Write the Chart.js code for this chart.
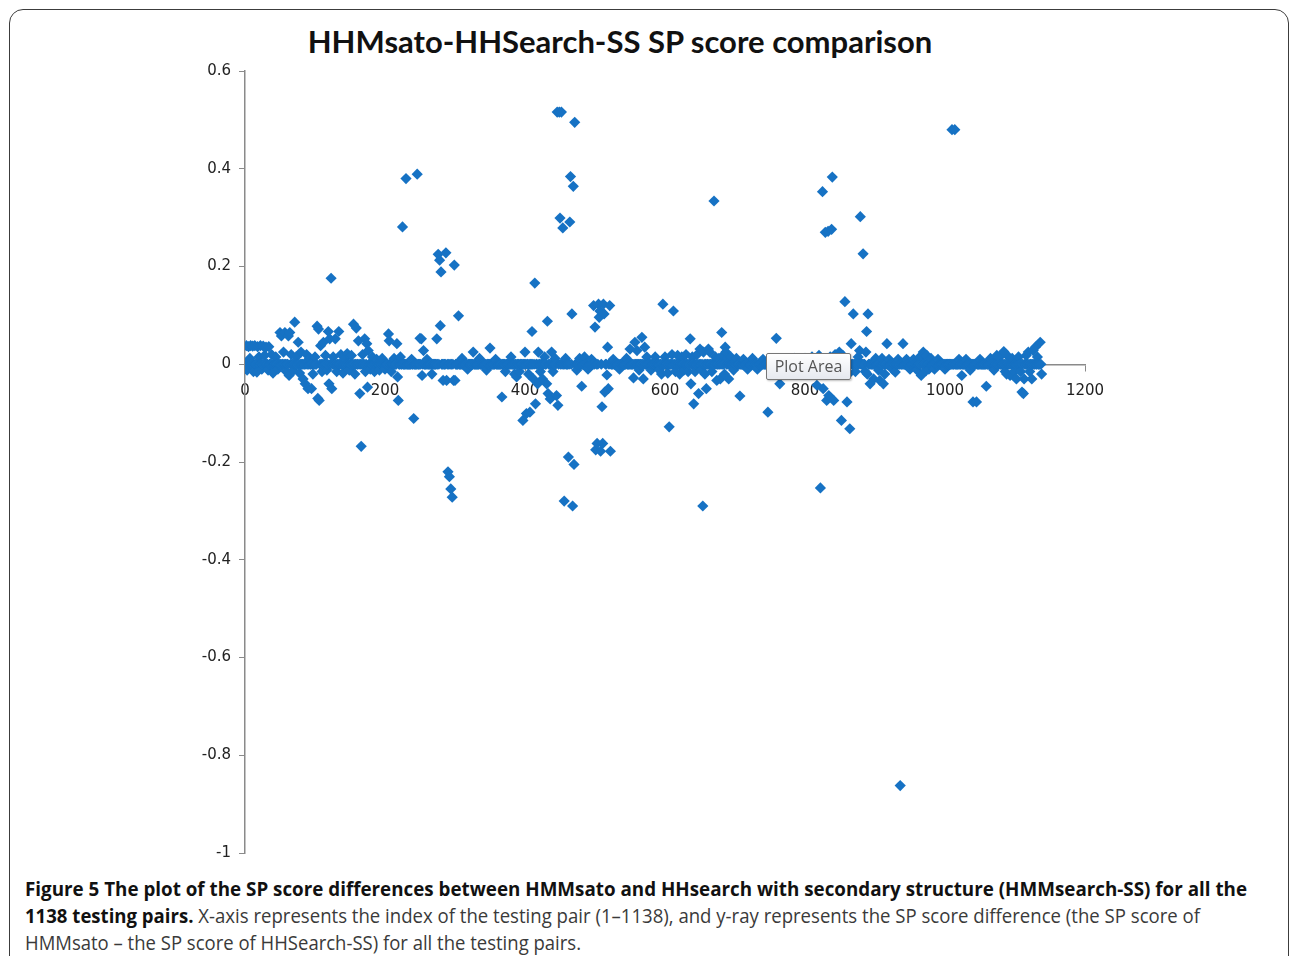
<!DOCTYPE html>
<html>
<head>
<meta charset="utf-8">
<script src="https://cdn.jsdelivr.net/npm/chart.js@4.4.1/dist/chart.umd.min.js"></script>
<style>
  html, body { margin: 0; padding: 0; background: #fff; }
  body { width: 1290px; height: 956px; position: relative; overflow: hidden; }
  #frame {
    position: absolute; left: 9px; top: 9px; width: 1280px; height: 1100px;
    box-sizing: border-box; border: 1.5px solid #3c3c3c; border-radius: 14px;
  }
  #title {
    position: absolute; left: 0; width: 1240px; top: 22px; text-align: center;
    font: bold 31px Lato, "Open Sans", sans-serif; color: #111;
  }
  #chart-wrap { position: absolute; left: 0; top: 0; }
  #tip {
    position: absolute; left: 766px; top: 353px; width: 85px; height: 27px;
    box-sizing: border-box; border: 1px solid #777; border-radius: 2px;
    background: linear-gradient(#ffffff, #e6e9ef);
    box-shadow: 1px 1px 2px rgba(0,0,0,0.25);
    font: 16px "Open Sans", "DejaVu Sans", sans-serif; color: #555;
    text-align: center; line-height: 25px;
  }
  .cap { position: absolute; left: 25px; white-space: nowrap; transform-origin: left center;
         font: 20px "Open Sans", sans-serif; color: #3a3a3a; }
  .cap b { color: #111; }
</style>
</head>
<body>
<div id="frame"></div>
<div id="title">HHMsato-HHSearch-SS SP score comparison</div>
<div id="chart-wrap"><canvas id="scatter" width="1290" height="870"></canvas></div>
<div id="tip">Plot Area</div>
<div class="cap" id="cap1" data-w="1222" style="top:875px"><b>Figure 5 The plot of the SP score differences between HMMsato and HHsearch with secondary structure (HMMsearch-SS) for all the</b></div>
<div class="cap" id="cap2" data-w="1175" style="top:902px"><b>1138 testing pairs.</b> X-axis represents the index of the testing pair (1–1138), and y-ray represents the SP score difference (the SP score of</div>
<div class="cap" id="cap3" data-w="556" style="top:929px">HMMsato – the SP score of HHSearch-SS) for all the testing pairs.</div>
<script>
const pairCount = 1138;
const xTicks = [0, 200, 400, 600, 800, 1000, 1200];
const yTicks = [0.6, 0.4, 0.2, 0, -0.2, -0.4, -0.6, -0.8, -1];

// [pair index, SP score difference] for every pair that is not on the zero line
const nonZeroPairs = [
  [2,0.038],[3,-0.012],[5,0.036],[7,0.012],[8,0.038],[11,0.037],[12,-0.015],[14,0.038],
  [17,-0.016],[18,0.036],[20,0.015],[22,0.038],[24,-0.01],[26,0.037],[28,0.018],[30,0.035],
  [33,-0.012],[34,0.036],[38,0.02],[40,-0.018],[44,0.015],[47,-0.01],[50,0.065],[52,0.058],
  [55,0.025],[57,0.065],[59,-0.015],[62,0.058],[63,-0.023],[64,0.065],[66,0.02],[69,-0.013],
  [71,0.086],[73,0.015],[76,0.045],[78,-0.018],[80,0.025],[83,-0.03],[86,-0.04],[88,0.02],
  [90,-0.05],[92,0.012],[95,-0.05],[97,-0.02],[100,0.015],[103,0.078],[104,-0.07],[105,0.072],
  [106,-0.074],[108,0.038],[110,-0.015],[112,0.045],[115,0.018],[117,-0.012],[119,0.067],
  [120,-0.04],[121,0.052],[123,0.176],[124,-0.05],[126,0.015],[129,0.052],[131,-0.015],
  [134,0.067],[137,0.02],[140,-0.018],[143,0.012],[146,0.022],[149,-0.012],[152,0.018],
  [155,0.082],[157,-0.02],[159,0.074],[162,0.048],[164,-0.06],[166,-0.168],[168,0.02],
  [171,0.052],[172,-0.015],[174,0.042],[175,-0.047],[176,0.028],[179,-0.01],[182,0.015],
  [185,-0.015],[188,0.01],[192,-0.012],[196,0.012],[200,-0.01],[205,0.062],[206,0.048],
  [209,-0.015],[213,0.012],[217,0.042],[218,-0.026],[219,-0.074],[222,0.015],[225,0.281],
  [230,0.38],[238,0.01],[241,-0.111],[246,0.389],[250,0.053],[252,0.052],[253,-0.023],
  [255,0.028],[260,0.01],[267,-0.02],[274,0.052],[276,0.225],[278,0.213],[279,0.079],
  [280,0.189],[283,-0.033],[287,0.228],[288,-0.033],[290,-0.22],[292,-0.23],[294,-0.255],
  [296,-0.272],[298,-0.033],[299,0.203],[300,-0.033],[305,0.099],[310,0.012],[318,-0.01],
  [326,0.025],[335,0.012],[345,-0.012],[350,0.033],[358,0.01],[367,-0.067],[372,-0.015],
  [380,0.015],[385,-0.02],[388,-0.026],[392,-0.015],[397,-0.115],[400,0.025],[402,-0.101],
  [405,-0.02],[407,-0.098],[410,0.067],[412,-0.03],[414,0.166],[415,-0.081],[418,-0.04],
  [419,0.025],[422,-0.015],[425,-0.03],[428,0.015],[431,-0.04],[432,0.088],[433,-0.06],
  [436,-0.071],[438,0.025],[440,-0.015],[443,0.012],[445,-0.064],[446,0.516],[447,-0.084],
  [449,0.516],[450,0.299],[452,0.516],[454,0.279],[456,-0.28],[458,0.012],[462,-0.19],
  [464,0.291],[465,0.384],[467,0.103],[468,-0.29],[469,0.364],[470,-0.205],[471,0.495],
  [474,-0.012],[478,0.012],[481,-0.045],[485,0.015],[490,-0.01],[495,0.01],[498,0.12],
  [500,0.076],[501,-0.175],[503,-0.162],[505,0.123],[506,0.096],[507,0.109],[508,-0.178],
  [510,-0.087],[511,-0.162],[512,0.123],[513,0.103],[514,-0.057],[517,-0.022],[518,0.035],
  [519,-0.05],[521,0.12],[522,-0.178],[526,0.01],[535,-0.01],[545,0.012],[550,0.031],
  [555,-0.028],[557,0.045],[560,0.028],[563,-0.012],[567,0.055],[569,-0.03],[571,0.035],
  [574,0.015],[580,-0.012],[586,0.015],[592,-0.012],[595,-0.02],[597,0.123],[600,0.015],
  [604,-0.018],[606,-0.128],[610,0.02],[612,0.109],[615,-0.015],[618,0.018],[621,-0.02],
  [624,0.015],[627,-0.012],[630,0.02],[633,-0.015],[636,0.052],[637,-0.04],[639,0.015],
  [641,-0.081],[643,-0.015],[646,0.02],[648,-0.06],[650,0.031],[652,-0.012],[654,-0.29],
  [655,0.025],[657,-0.02],[659,-0.05],[662,0.031],[664,0.025],[667,-0.015],[670,0.334],
  [672,0.015],[674,-0.033],[677,0.012],[679,-0.03],[681,0.065],[683,0.018],[685,-0.02],
  [686,0.035],[687,0.025],[689,0.012],[691,-0.03],[694,0.015],[698,-0.012],[702,0.012],
  [707,-0.065],[712,0.01],[718,-0.01],[725,0.012],[732,-0.01],[740,0.01],[747,-0.098],
  [752,0.01],[759,0.053],[764,-0.04],[770,0.01],[778,-0.01],[785,0.012],[792,-0.012],
  [800,0.012],[806,-0.015],[810,0.015],[814,-0.02],[817,-0.043],[820,0.018],[822,-0.253],
  [825,0.353],[826,-0.05],[829,0.27],[831,-0.074],[833,0.272],[834,-0.064],[836,0.015],
  [838,0.276],[839,0.383],[841,-0.074],[843,0.02],[846,-0.02],[849,0.025],[852,-0.115],
  [854,0.018],[857,0.128],[860,-0.077],[862,-0.02],[864,-0.132],[866,0.042],[869,0.103],
  [872,-0.015],[876,0.015],[878,0.028],[879,0.302],[883,0.226],[886,-0.015],[887,0.025],
  [888,0.067],[889,-0.02],[890,0.103],[893,-0.04],[898,-0.03],[901,0.012],[905,-0.012],
  [907,-0.033],[910,0.012],[912,-0.04],[914,-0.02],[917,0.042],[920,0.01],[925,-0.01],
  [929,-0.016],[933,0.01],[936,-0.862],[940,0.042],[945,0.01],[950,-0.01],[955,0.01],
  [960,-0.012],[964,0.015],[966,-0.023],[967,0.015],[969,0.025],[971,0.02],[973,-0.013],
  [974,0.018],[977,-0.01],[980,0.012],[985,-0.01],[990,0.01],[1000,-0.01],[1010,0.48],
  [1014,0.48],[1020,0.01],[1024,-0.023],[1030,0.01],[1036,-0.012],[1040,-0.077],[1045,-0.077],
  [1050,0.01],[1059,-0.045],[1065,0.012],[1070,-0.012],[1074,0.018],[1078,0.015],[1084,0.026],
  [1086,-0.015],[1088,-0.02],[1091,0.015],[1093,-0.023],[1096,0.012],[1099,-0.015],[1102,-0.03],
  [1105,0.015],[1108,-0.015],[1110,-0.057],[1112,-0.06],[1113,-0.03],[1116,0.018],[1119,0.025],
  [1121,-0.015],[1124,-0.03],[1126,0.028],[1129,0.035],[1132,0.015],[1136,0.045],[1138,-0.02]
];

// every other pair sits on the zero line
const scoreDiff = new Array(pairCount).fill(0);
nonZeroPairs.forEach(([i, v]) => { scoreDiff[i - 1] = v; });
const points = scoreDiff.map((v, i) => ({ x: i + 1, y: v }));

const fmt = v => { const r = Math.round(v * 10) / 10; return r === 0 ? "0" : String(r); };
const axisGray = "#8a8a8a";
const tickFont = { family: "DejaVu Sans", size: 15 };

new Chart(document.getElementById("scatter"), {
  type: "scatter",
  data: {
    datasets: [{
      label: "SP score difference",
      data: points,
      pointStyle: "rectRot",
      pointRadius: 5.6,
      pointBorderWidth: 0,
      backgroundColor: "#1672c4",
      borderColor: "#1672c4"
    }]
  },
  options: {
    responsive: false,
    animation: false,
    events: [],
    layout: { padding: { left: 185, top: 71, right: 205, bottom: 14 } },
    plugins: { legend: { display: false }, tooltip: { enabled: false } },
    scales: {
      x: {
        type: "linear",
        position: { y: 0 },
        min: 0, max: 1200,
        afterBuildTicks: s => { s.ticks = xTicks.map(v => ({ value: v })); },
        ticks: { color: "#222", font: tickFont, padding: 12, callback: v => String(v), maxRotation: 0 },
        grid: { drawOnChartArea: false, tickLength: 6, color: axisGray, lineWidth: 1 },
        border: { color: axisGray, width: 1.5 }
      },
      y: {
        type: "linear",
        position: "left",
        min: -1, max: 0.6,
        afterBuildTicks: s => { s.ticks = yTicks.map(v => ({ value: v })); },
        afterFit: s => { s.width = 60; },
        ticks: { color: "#222", font: tickFont, padding: 8, callback: fmt },
        grid: { drawOnChartArea: false, tickLength: 6, color: axisGray, lineWidth: 1 },
        border: { color: axisGray, width: 1.5 }
      }
    }
  }
});

// squeeze caption lines to the width they take in the figure
document.querySelectorAll(".cap").forEach(el => {
  const k = +el.dataset.w / el.getBoundingClientRect().width;
  el.style.transform = "scaleX(" + k + ")";
});
</script>
</body>
</html>
